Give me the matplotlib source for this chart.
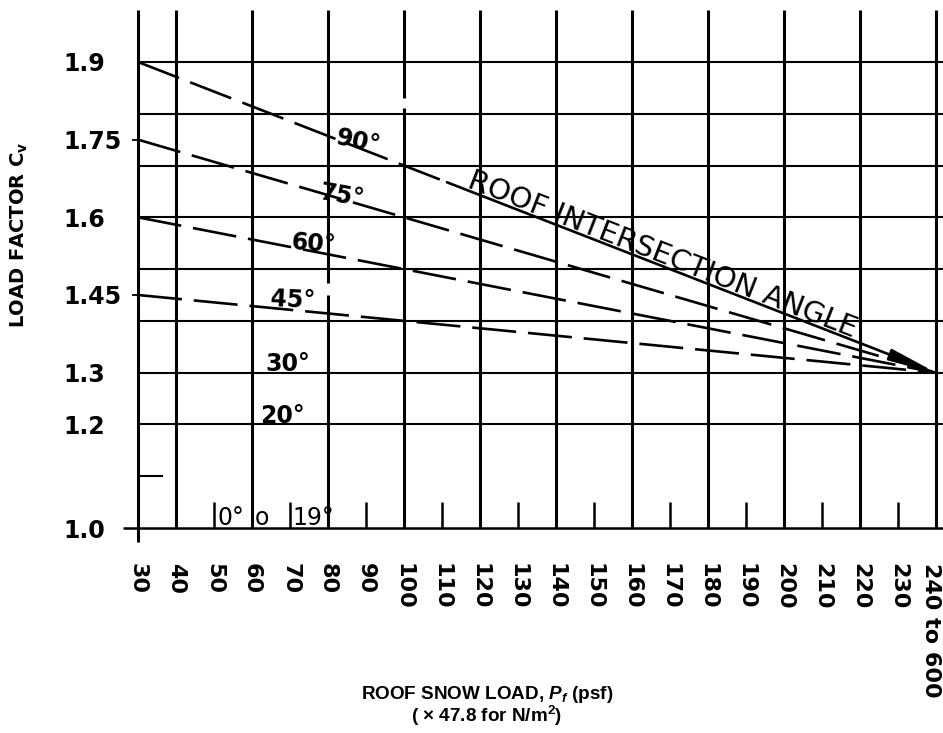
import numpy as np
import matplotlib
matplotlib.use("Agg")
import matplotlib.pyplot as plt
from matplotlib.transforms import ScaledTranslation

plt.rcParams['lines.scale_dashes'] = False
plt.rcParams['mathtext.fontset'] = 'custom'
plt.rcParams['mathtext.rm'] = 'Liberation Sans:bold'
plt.rcParams['mathtext.it'] = 'Liberation Sans:italic:bold'
plt.rcParams['mathtext.bf'] = 'DejaVu Sans:bold'

# ---------------- data ----------------
x_ticks = [30, 40, 50, 60, 70, 80, 90, 100, 110, 120, 130, 140, 150, 160,
           170, 180, 190, 200, 210, 220, 230, 240]
x_tick_labels = ["30", "40", "50", "60", "70", "80", "90", "100", "110", "120",
                 "130", "140", "150", "160", "170", "180", "190", "200", "210",
                 "220", "230", "240 to 600"]
y_ticks = [1.0, 1.2, 1.3, 1.45, 1.6, 1.75, 1.9]
y_tick_labels = ["1.0", "1.2", "1.3", "1.45", "1.6", "1.75", "1.9"]
grid_x = [30, 40, 60, 80, 100, 120, 140, 160, 180, 200, 220, 240]
grid_y = [1.2, 1.3, 1.4, 1.5, 1.6, 1.7, 1.8, 1.9]
short_tick_x = [50, 70, 90, 110, 130, 150, 170, 190, 210, 230]
side_tick_y = [1.75, 1.45]
mark_1_1 = [1.1]

angle_labels = ["90°", "75°", "60°", "45°"]
pf_range = [30, 240]
cv_at_30 = [1.9, 1.75, 1.6, 1.45]
cv_at_240 = [1.3, 1.3, 1.3, 1.3]
flat_labels = ["30°", "20°"]
flat_cv = [1.3, 1.2]
bottom_texts = ["0°", "o", "19°"]

# ---------------- layout ----------------
W_PX, H_PX = 943, 733
fig = plt.figure(figsize=(W_PX / 100, H_PX / 100), dpi=100)
ax = fig.add_axes([138 / W_PX, 205 / H_PX, 805 / W_PX, 528 / H_PX])
X_MAX = 30 + 805 / 3.8
Y_MAX = 1.0 + 528 / 517.8
ax.set_xlim(30, X_MAX)
ax.set_ylim(1.0, Y_MAX)
for s in ax.spines.values():
    s.set_visible(False)

GRID_TOP = 2.0
K = 'black'

# ticks / labels
ax.set_xticks(x_ticks)
ax.set_xticklabels(x_tick_labels, rotation=270, fontsize=16, fontweight='bold',
                   family='DejaVu Sans', ha='center', va='top')
ax.tick_params(axis='x', length=0, pad=25)
last = ax.get_xticklabels()[-1]
last.set_transform(last.get_transform() + ScaledTranslation(-5 / 100, 0, fig.dpi_scale_trans))
ax.set_yticks(y_ticks)
ax.set_yticklabels(y_tick_labels, fontsize=17, fontweight='bold',
                   family='DejaVu Sans', ha='left')
ax.tick_params(axis='y', length=0, pad=54)

ax.set_ylabel(r"LOAD FACTOR C$_{\mathbf{v}}$", fontsize=14, fontweight='bold',
              family='DejaVu Sans')
ax.yaxis.set_label_coords(-0.136, 0.555)
ax.set_xlabel("ROOF SNOW LOAD, $P_f$ (psf)\n( \u00d7 47.8 for N/m$^2$)",
              fontsize=13.6, fontweight='bold', family='Liberation Sans',
              linespacing=0.95)
ax.xaxis.set_label_coords(0.4335, -0.295)

# vertical grid lines
for gx in grid_x:
    if gx == 30:
        ax.plot([gx, gx], [0.973, GRID_TOP], color=K, lw=2.2, clip_on=False,
                solid_capstyle='butt')
    elif gx == 80:
        ax.plot([gx, gx], [1.0, 1.45], color=K, lw=2.2, solid_capstyle='butt')
        ax.plot([gx, gx], [1.473, GRID_TOP], color=K, lw=2.2, solid_capstyle='butt')
    elif gx == 100:
        ax.plot([gx, gx], [1.0, 1.811], color=K, lw=2.2, solid_capstyle='butt')
        ax.plot([gx, gx], [1.830, GRID_TOP], color=K, lw=2.2, solid_capstyle='butt')
    else:
        ax.plot([gx, gx], [1.0, GRID_TOP], color=K, lw=2.2, solid_capstyle='butt')

# horizontal grid lines
for gy in grid_y:
    ax.plot([30, X_MAX], [gy, gy], color=K, lw=1.5, solid_capstyle='butt')
# base line at 1.0
ax.plot([26, X_MAX], [1.0, 1.0], color=K, lw=1.8, clip_on=False,
        solid_capstyle='butt')
# short ticks along the base
for tx in short_tick_x:
    ax.plot([tx, tx], [1.0, 1.05], color=K, lw=1.8, solid_capstyle='butt')
# small side ticks
for sy in side_tick_y:
    ax.plot([28.7, 30], [sy, sy], color=K, lw=1.3, clip_on=False)
for my in mark_1_1:
    ax.plot([30, 36.3], [my, my], color=K, lw=1.5)

# dashed load-factor lines
DASH = (31.7, 8.6)
x_break = 111.3
for i, lab in enumerate(angle_labels):
    xs = pf_range
    ys = [cv_at_30[i], cv_at_240[i]]
    if i == 0:
        yb = float(np.interp(x_break, xs, ys))
        ax.plot([xs[0], x_break], [ys[0], yb], color=K, lw=1.9, dashes=DASH)
        ax.annotate('', xy=(xs[1], ys[1]), xytext=(x_break, yb),
                    arrowprops=dict(arrowstyle='-|>,head_length=2.8,head_width=0.35',
                                    color=K, lw=1.9, shrinkA=0, shrinkB=0,
                                    mutation_scale=10))
    else:
        ax.plot(xs, ys, color=K, lw=1.9, dashes=DASH)

# labels for the angle lines
sloped_pos = [(81.8, 1.742, -12), (77.4, 1.636, -10), (70.0, 1.539, -5),
              (64.7, 1.428, -3)]
for lab, (lx, ly, rot) in zip(angle_labels, sloped_pos):
    ax.text(lx, ly, lab, fontsize=17, fontweight='bold', family='DejaVu Sans',
            rotation=rot, rotation_mode='anchor', ha='left', va='baseline')
flat_pos_x = [63.4, 62.1]
for lab, cv, lx in zip(flat_labels, flat_cv, flat_pos_x):
    ax.text(lx, cv + 0.003, lab, fontsize=17, fontweight='bold',
            family='DejaVu Sans', ha='left', va='baseline')

# bottom labels near the base
for lab, bx in zip(bottom_texts, [51.0, 60.6, 70.6]):
    ax.text(bx, 1.006, lab, fontsize=17, family='DejaVu Sans', ha='left',
            va='baseline')

# ROOF INTERSECTION ANGLE text along the 90 deg line
p0 = ax.transData.transform((pf_range[0], cv_at_30[0]))
p1 = ax.transData.transform((pf_range[1], cv_at_240[0]))
ang = np.degrees(np.arctan2(p1[1] - p0[1], p1[0] - p0[0]))
tx0 = 116.3
ty0 = float(np.interp(tx0, pf_range, [cv_at_30[0], cv_at_240[0]])) + 0.006
ax.text(tx0, ty0, "ROOF INTERSECTION ANGLE", fontsize=21, family='DejaVu Sans',
        rotation=ang, rotation_mode='anchor', ha='left', va='baseline')

fig.savefig("out.png", dpi=100)
